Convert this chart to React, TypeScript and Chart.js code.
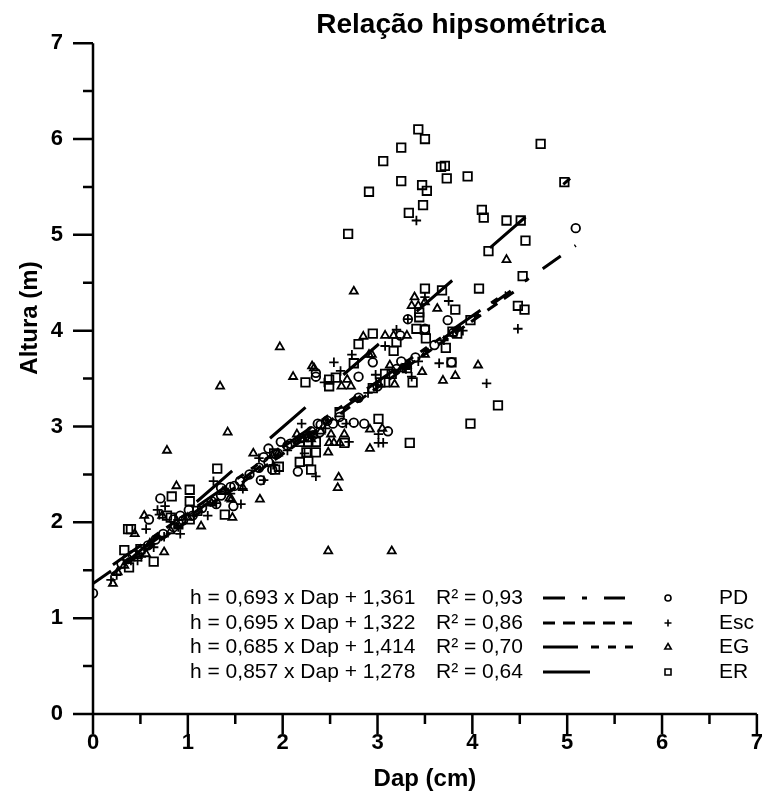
import React, { useEffect, useRef } from 'react';
import { Chart, registerables } from 'chart.js';

Chart.register(...registerables);

const FONT = '"Liberation Sans", Arial, Helvetica, sans-serif';

// ---- data (Dap in cm, Altura in m) ----
const pdX = [0, 0.30, 0.36, 0.42, 0.50, 0.58, 0.59, 0.66, 0.71, 0.74, 0.85, 0.85, 0.92, 0.95, 1.01, 1.05, 1.15, 1.25, 1.30, 1.35, 1.35, 1.45, 1.48, 1.49, 1.55, 1.65, 1.75, 1.77, 1.80, 1.85, 1.85, 1.89, 1.93, 1.95, 1.98, 2.05, 2.08, 2.16, 2.20, 2.30, 2.32, 2.35, 2.35, 2.37, 2.39, 2.40, 2.47, 2.53, 2.60, 2.63, 2.75, 2.80, 2.80, 2.86, 2.95, 3.00, 3.11, 3.20, 3.24, 3.25, 3.32, 3.40, 3.50, 3.60, 3.74, 3.78, 3.80, 5.09];
const pdY = [1.26, 1.57, 1.62, 1.66, 1.70, 1.76, 2.03, 1.82, 2.25, 1.88, 1.95, 2.03, 2.07, 2.02, 2.13, 2.07, 2.15, 2.22, 2.19, 2.28, 2.36, 2.37, 2.17, 2.38, 2.43, 2.50, 2.57, 2.44, 2.68, 2.63, 2.77, 2.55, 2.71, 2.72, 2.84, 2.80, 2.82, 2.53, 2.88, 2.95, 2.91, 3.52, 3.56, 3.03, 2.94, 3.02, 3.06, 3.03, 3.10, 3.04, 3.04, 3.30, 3.52, 3.03, 3.67, 3.42, 2.95, 3.60, 3.95, 3.68, 4.12, 3.72, 4.02, 3.85, 4.11, 3.67, 3.98, 5.07];

const escX = [0.19, 0.25, 0.40, 0.47, 0.51, 0.56, 0.61, 0.64, 0.68, 0.70, 0.75, 0.76, 0.90, 0.92, 1.06, 1.21, 1.27, 1.30, 1.45, 1.56, 1.58, 1.75, 1.80, 1.90, 2.05, 2.20, 2.23, 2.30, 2.35, 2.44, 2.45, 2.54, 2.61, 2.67, 2.70, 2.73, 2.90, 2.98, 3.01, 3.01, 3.06, 3.08, 3.20, 3.30, 3.32, 3.36, 3.41, 3.43, 3.50, 3.65, 3.70, 3.75, 3.90, 4.15, 4.48];
const escY = [1.40, 1.45, 1.60, 1.60, 1.64, 1.93, 1.77, 1.74, 2.13, 2.08, 1.85, 2.17, 1.95, 1.88, 2.07, 2.07, 2.43, 2.20, 2.30, 2.19, 2.35, 2.67, 2.44, 2.60, 2.75, 3.03, 2.72, 2.90, 2.48, 3.46, 2.98, 3.67, 3.58, 3.03, 2.84, 3.75, 3.35, 3.54, 2.92, 2.83, 2.83, 3.84, 4.01, 3.60, 4.12, 3.52, 5.15, 3.68, 4.35, 3.66, 3.90, 4.31, 4.00, 3.45, 4.02];

const egX = [0.21, 0.26, 0.33, 0.44, 0.47, 0.54, 0.56, 0.60, 0.73, 0.75, 0.78, 0.82, 0.88, 1.00, 1.14, 1.25, 1.34, 1.37, 1.42, 1.44, 1.46, 1.47, 1.58, 1.69, 1.76, 1.95, 1.97, 2.11, 2.15, 2.22, 2.30, 2.31, 2.33, 2.40, 2.48, 2.49, 2.51, 2.54, 2.58, 2.59, 2.60, 2.62, 2.65, 2.68, 2.72, 2.75, 2.85, 2.91, 2.92, 2.92, 2.94, 3.05, 3.08, 3.13, 3.17, 3.18, 3.25, 3.31, 3.31, 3.36, 3.39, 3.43, 3.47, 3.50, 3.50, 3.63, 3.69, 3.82, 4.06, 4.36, 2.48, 3.15];
const egY = [1.36, 1.48, 1.55, 1.88, 1.65, 2.07, 1.67, 1.78, 2.07, 1.69, 2.75, 1.91, 2.38, 2.05, 1.96, 2.20, 3.42, 2.32, 2.94, 2.25, 2.24, 2.05, 2.36, 2.72, 2.24, 2.72, 3.83, 3.52, 2.92, 2.87, 2.87, 3.63, 3.61, 2.95, 2.73, 2.83, 2.92, 2.83, 2.36, 2.47, 2.83, 3.42, 2.92, 3.49, 3.42, 4.41, 3.94, 3.75, 2.97, 2.77, 3.75, 2.98, 3.95, 3.64, 3.95, 3.44, 3.60, 3.95, 3.64, 4.26, 4.35, 4.26, 3.57, 4.30, 3.75, 4.23, 3.48, 3.53, 3.64, 4.74, 1.70, 1.70];

const erX = [0.33, 0.37, 0.38, 0.40, 0.50, 0.64, 0.78, 0.82, 0.83, 0.90, 1.02, 1.02, 1.02, 1.10, 1.31, 1.39, 1.91, 1.92, 1.96, 2.18, 2.18, 2.24, 2.25, 2.27, 2.27, 2.30, 2.35, 2.35, 2.49, 2.49, 2.56, 2.60, 2.65, 2.69, 2.75, 2.80, 2.91, 2.95, 2.95, 3.01, 3.03, 3.06, 3.08, 3.08, 3.15, 3.17, 3.20, 3.25, 3.25, 3.31, 3.33, 3.34, 3.37, 3.41, 3.43, 3.44, 3.44, 3.47, 3.48, 3.50, 3.50, 3.50, 3.51, 3.52, 3.67, 3.68, 3.71, 3.72, 3.73, 3.78, 3.79, 3.82, 3.84, 3.95, 3.98, 3.98, 4.07, 4.10, 4.12, 4.17, 4.27, 4.36, 4.48, 4.51, 4.53, 4.55, 4.56, 4.72, 4.97];
const erY = [1.71, 1.93, 1.53, 1.93, 1.72, 1.59, 2.07, 2.05, 2.27, 1.98, 2.34, 2.22, 2.03, 2.12, 2.56, 2.08, 2.72, 2.55, 2.58, 2.84, 2.63, 3.46, 2.73, 2.84, 2.64, 2.55, 2.84, 2.73, 3.49, 3.42, 3.51, 3.15, 2.83, 5.01, 3.66, 3.86, 5.45, 3.40, 3.97, 3.08, 3.46, 5.77, 3.55, 3.46, 3.55, 3.79, 3.88, 5.91, 5.56, 3.61, 5.23, 2.83, 3.46, 4.02, 6.10, 4.19, 4.14, 5.52, 5.31, 6.00, 4.01, 4.44, 3.92, 5.46, 5.71, 4.42, 5.72, 3.82, 5.59, 3.67, 3.99, 4.22, 3.97, 5.61, 4.11, 3.03, 4.44, 5.26, 5.18, 4.83, 3.22, 5.15, 4.26, 5.15, 4.57, 4.22, 4.94, 5.95, 5.55];

// ---- regressions h = a x Dap + b ----
const seriesNames = ['PD', 'Esc', 'EG', 'ER'];
const slopes = [0.693, 0.695, 0.685, 0.857];
const intercepts = [1.361, 1.322, 1.414, 1.278];
const rSquared = [0.93, 0.86, 0.70, 0.64];
const fitFrom = [0, 0.19, 0.21, 0.32];
const fitTo = [5.09, 4.48, 4.36, 5.03];

const xTickValues = [0, 1, 2, 3, 4, 5, 6, 7];
const yTickValues = [0, 1, 2, 3, 4, 5, 6, 7];

const pointStyles = ['circle', 'cross', 'triangle', 'rect'];
const pointSizes = [4.3, 4.7, 4.6, 6];
const dashes = [
  [22, 17, 5, 17],
  [12, 8],
  [35, 13, 8, 9, 8, 9, 8, 13],
  [47, 50],
];

const fmt = (v: number, d: number) => v.toFixed(d).replace('.', ',');

const toPts = (xs: number[], ys: number[]) => xs.map((x, i) => ({ x, y: ys[i] }));

const decorPlugin = {
  id: 'decor',
  afterDraw(chart: any) {
    const ctx = chart.ctx as CanvasRenderingContext2D;
    const xs = chart.scales.x;
    const ys = chart.scales.y;
    const x0 = xs.getPixelForValue(0);
    const x7 = xs.getPixelForValue(7);
    const y0 = ys.getPixelForValue(0);
    const y7 = ys.getPixelForValue(7);
    ctx.save();
    ctx.strokeStyle = '#000';
    ctx.fillStyle = '#000';
    ctx.lineWidth = 2.5;
    ctx.lineCap = 'butt';
    ctx.setLineDash([]);
    // axes
    ctx.beginPath();
    ctx.moveTo(x0, y7);
    ctx.lineTo(x0, y0);
    ctx.moveTo(x0, y0);
    ctx.lineTo(x7, y0);
    ctx.stroke();
    // ticks
    ctx.beginPath();
    for (let v = 0; v <= 7.001; v += 0.5) {
      const major = Math.abs(v - Math.round(v)) < 1e-6;
      const len = major ? 20 : 10;
      const py = ys.getPixelForValue(v);
      ctx.moveTo(x0, py);
      ctx.lineTo(x0 - len, py);
      const px = xs.getPixelForValue(v);
      ctx.moveTo(px, y0);
      ctx.lineTo(px, y0 + len);
    }
    ctx.stroke();

    // title
    ctx.font = `bold 28px ${FONT}`;
    ctx.textAlign = 'center';
    ctx.textBaseline = 'alphabetic';
    ctx.fillText('Relação hipsométrica', 461, 33);

    // axis titles
    ctx.font = `bold 24px ${FONT}`;
    ctx.textBaseline = 'middle';
    ctx.fillText('Dap (cm)', (x0 + x7) / 2, 779);
    ctx.save();
    ctx.translate(30, 318);
    ctx.rotate(-Math.PI / 2);
    ctx.fillText('Altura (m)', 0, 0);
    ctx.restore();

    // legend
    const rows = [598, 623, 647, 672];
    const lineEnds = [625, 632, 633, 593];
    ctx.font = `21px ${FONT}`;
    for (let i = 0; i < 4; i++) {
      const ry = rows[i];
      ctx.textAlign = 'left';
      ctx.textBaseline = 'middle';
      ctx.fillStyle = '#000';
      ctx.fillText(`h = ${fmt(slopes[i], 3)} x Dap + ${fmt(intercepts[i], 3)}`, 190, ry);
      ctx.fillText(`R\u00B2 = ${fmt(rSquared[i], 2)}`, 436, ry);
      ctx.fillText(seriesNames[i], 719, ry);
      // line sample
      ctx.lineWidth = 3;
      ctx.setLineDash(dashes[i]);
      ctx.beginPath();
      ctx.moveTo(543, ry);
      ctx.lineTo(lineEnds[i], ry);
      ctx.stroke();
      ctx.setLineDash([]);
      // marker
      ctx.lineWidth = 1.6;
      ctx.beginPath();
      const mx = 668;
      if (i === 0) {
        ctx.arc(mx, ry, 3, 0, Math.PI * 2);
      } else if (i === 1) {
        ctx.moveTo(mx - 3.5, ry);
        ctx.lineTo(mx + 3.5, ry);
        ctx.moveTo(mx, ry - 3.5);
        ctx.lineTo(mx, ry + 3.5);
      } else if (i === 2) {
        ctx.moveTo(mx, ry - 3.5);
        ctx.lineTo(mx + 3.2, ry + 2);
        ctx.lineTo(mx - 3.2, ry + 2);
        ctx.closePath();
      } else {
        ctx.rect(mx - 3, ry - 3, 6, 6);
      }
      ctx.stroke();
    }
    ctx.restore();
  },
};

export default function App() {
  const ref = useRef<HTMLCanvasElement | null>(null);
  useEffect(() => {
    if (!ref.current) return;
    const markerSets = [toPts(pdX, pdY), toPts(escX, escY), toPts(egX, egY), toPts(erX, erY)];
    const datasets: any[] = [];
    markerSets.forEach((pts, i) => {
      datasets.push({
        label: seriesNames[i],
        data: pts,
        showLine: false,
        pointStyle: pointStyles[i],
        pointRadius: pointSizes[i],
        pointBorderWidth: 1.8,
        pointBorderColor: '#000',
        pointBackgroundColor: 'rgba(0,0,0,0)',
        borderColor: '#000',
        backgroundColor: 'rgba(0,0,0,0)',
        order: 1,
      });
    });
    slopes.forEach((a, i) => {
      datasets.push({
        label: seriesNames[i] + ' fit',
        data: [
          { x: fitFrom[i], y: a * fitFrom[i] + intercepts[i] },
          { x: fitTo[i], y: a * fitTo[i] + intercepts[i] },
        ],
        showLine: true,
        pointRadius: 0,
        borderColor: '#000',
        borderWidth: 3,
        borderDash: dashes[i],
        borderCapStyle: 'butt',
        fill: false,
        order: 2,
      });
    });

    const chart = new Chart(ref.current, {
      type: 'scatter',
      data: { datasets },
      options: {
        animation: false,
        responsive: false,
        maintainAspectRatio: false,
        layout: { padding: { top: 34, right: 11, left: 0, bottom: 0 } },
        plugins: { legend: { display: false }, tooltip: { enabled: false }, title: { display: false } },
        scales: {
          x: {
            type: 'linear',
            min: 0,
            max: 7,
            afterFit: (s: any) => { s.height = 84; },
            afterBuildTicks: (s: any) => { s.ticks = xTickValues.map((v) => ({ value: v })); },
            grid: { display: false, drawTicks: false },
            border: { display: false },
            ticks: { padding: 16, color: '#000', font: { family: FONT, size: 22, weight: 'bold' }, maxRotation: 0 },
          },
          y: {
            type: 'linear',
            min: 0,
            max: 7,
            afterFit: (s: any) => { s.width = 93; },
            afterBuildTicks: (s: any) => { s.ticks = yTickValues.map((v) => ({ value: v })); },
            grid: { display: false, drawTicks: false },
            border: { display: false },
            ticks: { padding: 30, color: '#000', font: { family: FONT, size: 22, weight: 'bold' } },
          },
        },
      },
      plugins: [decorPlugin],
    });
    return () => chart.destroy();
  }, []);

  return (
    <div style={{ position: 'absolute', left: 0, top: 0, width: 779, height: 798, background: '#fff' }}>
      <canvas ref={ref} width={779} height={798} style={{ display: 'block' }} />
    </div>
  );
}
